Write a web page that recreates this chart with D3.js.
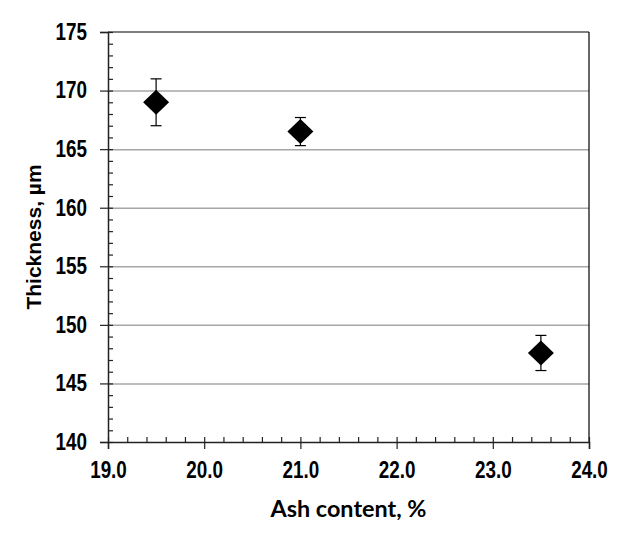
<!DOCTYPE html>
<html>
<head>
<meta charset="utf-8">
<script src="https://cdn.jsdelivr.net/npm/d3@7"></script>
<style>
  body { margin: 0; background: #fff; }
  .tick text { font-family: "Liberation Sans", Arial, sans-serif; font-weight: bold; font-size: 23px; fill: #000; }
</style>
</head>
<body>
<script>
// Chart data
const ashContent = [19.5, 21.0, 23.5];        // x values, %
const thickness = [169.0, 166.5, 147.6];      // y values, um
const thicknessErr = [2.0, 1.2, 1.5];         // error bar half lengths
const xTicks = [19, 20, 21, 22, 23, 24];
const yTicks = [140, 145, 150, 155, 160, 165, 170, 175];

const width = 627;
const height = 534;
const margin = {top: 32, right: 38, bottom: 92, left: 108};
const narrow = 0.82;   // squeeze bold sans into narrow look

const svg = d3.select('body')
  .append('svg')
  .attr('width', width)
  .attr('height', height);

const xScale = d3.scaleLinear()
  .domain([19, 24])
  .range([margin.left, width - margin.right]);

const yScale = d3.scaleLinear()
  .domain([140, 175])
  .range([height - margin.bottom, margin.top]);

const plotW = width - margin.left - margin.right;

// gridlines
svg.append('g')
  .attr('transform', 'translate(' + margin.left + ',0)')
  .call(d3.axisLeft(yScale).tickValues(yTicks.filter(v => v > 140 && v < 175)).tickSize(-plotW).tickFormat(''))
  .call(g => g.select('.domain').remove())
  .selectAll('line').attr('stroke', '#a6a6a6').attr('stroke-width', 1.5);

// top and right border
svg.append('line')
  .attr('x1', margin.left).attr('x2', xScale(24))
  .attr('y1', yScale(175)).attr('y2', yScale(175))
  .attr('stroke', '#000').attr('stroke-width', 1.2);
svg.append('line')
  .attr('x1', xScale(24)).attr('x2', xScale(24))
  .attr('y1', yScale(175)).attr('y2', yScale(140))
  .attr('stroke', '#000').attr('stroke-width', 1.2);

// minor ticks (inside)
svg.append('g')
  .attr('transform', 'translate(0,' + yScale(140) + ')')
  .call(d3.axisBottom(xScale).tickValues(d3.range(19, 24.01, 0.2)).tickSize(-5).tickFormat(''))
  .call(g => g.select('.domain').remove())
  .selectAll('line').attr('stroke', '#222').attr('stroke-width', 1.2);

svg.append('g')
  .attr('transform', 'translate(' + margin.left + ',0)')
  .call(d3.axisLeft(yScale).tickValues(d3.range(140, 175.01, 1)).tickSize(-5).tickFormat(''))
  .call(g => g.select('.domain').remove())
  .selectAll('line').attr('stroke', '#222').attr('stroke-width', 1.2);

// major axes
svg.append('g')
  .attr('transform', 'translate(0,' + yScale(140) + ')')
  .call(d3.axisBottom(xScale).tickValues(xTicks).tickSize(7).tickPadding(13).tickFormat(d3.format('.1f')))
  .call(g => g.select('.domain').attr('stroke', '#222').attr('stroke-width', 1.5))
  .call(g => g.selectAll('line').attr('stroke', '#222').attr('stroke-width', 1.2))
  .call(g => g.selectAll('text').attr('transform', 'scale(' + narrow + ',1)'));

svg.append('g')
  .attr('transform', 'translate(' + margin.left + ',0)')
  .call(d3.axisLeft(yScale).tickValues(yTicks).tickSize(8).tickPadding(13))
  .call(g => g.select('.domain').attr('stroke', '#222').attr('stroke-width', 1.5))
  .call(g => g.selectAll('line').attr('stroke', '#222').attr('stroke-width', 1.2))
  .call(g => g.selectAll('text')
    .attr('x', function() { return +d3.select(this).attr('x') / narrow; })
    .attr('transform', 'scale(' + narrow + ',1)'));

const data = ashContent.map((x, i) => ({x: x, y: thickness[i], e: thicknessErr[i]}));

// error bars
const eb = svg.append('g').classed('errorbars', true);
eb.selectAll('line.v')
  .data(data).join('line').classed('v', true)
  .attr('x1', d => xScale(d.x)).attr('x2', d => xScale(d.x))
  .attr('y1', d => yScale(d.y + d.e)).attr('y2', d => yScale(d.y - d.e))
  .attr('stroke', '#000').attr('stroke-width', 1.2);
['top', 'bottom'].forEach(side => {
  eb.selectAll('line.' + side)
    .data(data).join('line').classed(side, true)
    .attr('x1', d => xScale(d.x) - 5.5).attr('x2', d => xScale(d.x) + 5.5)
    .attr('y1', d => yScale(side === 'top' ? d.y + d.e : d.y - d.e))
    .attr('y2', d => yScale(side === 'top' ? d.y + d.e : d.y - d.e))
    .attr('stroke', '#000').attr('stroke-width', 1.2);
});

// diamond markers
const hw = 13, hh = 12.5;
svg.append('g').classed('points', true)
  .selectAll('path')
  .data(data).join('path')
  .attr('d', d => {
    const cx = xScale(d.x), cy = yScale(d.y);
    return 'M' + cx + ',' + (cy - hh) + 'L' + (cx + hw) + ',' + cy + 'L' + cx + ',' + (cy + hh) + 'L' + (cx - hw) + ',' + cy + 'Z';
  })
  .attr('fill', '#000');

// axis titles
svg.append('text')
  .attr('x', (xScale(19) + xScale(24)) / 2)
  .attr('y', 517)
  .attr('text-anchor', 'middle')
  .style('font-family', 'Lato, "Open Sans", sans-serif')
  .style('font-weight', 'bold')
  .style('font-size', '23.4px')
  .text('Ash content, %');

svg.append('text')
  .attr('transform', 'translate(41,' + ((yScale(140) + yScale(175)) / 2) + ') rotate(-90)')
  .attr('text-anchor', 'middle')
  .style('font-family', '"Liberation Sans", Arial, sans-serif')
  .style('font-weight', 'bold')
  .style('font-size', '21px')
  .text('Thickness, µm');
</script>
</body>
</html>
